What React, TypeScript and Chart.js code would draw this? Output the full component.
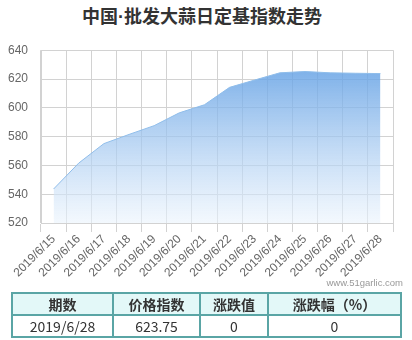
import React, { useEffect, useRef } from 'react';
import { Chart, registerables } from 'chart.js';

Chart.register(...registerables);

const titleBefore = '中国';
const titleDot = '·';
const titleAfter = '批发大蒜日定基指数走势';
const categories = [
  '2019/6/15', '2019/6/16', '2019/6/17', '2019/6/18', '2019/6/19', '2019/6/20', '2019/6/21',
  '2019/6/22', '2019/6/23', '2019/6/24', '2019/6/25', '2019/6/26', '2019/6/27', '2019/6/28',
];
const indexValues = [543.6, 561.6, 575.1, 581.5, 587.6, 596.5, 602.1, 614.2, 619.3, 624.3, 625.2, 624.3, 624.0, 623.75];
const yMin = 520;
const yMax = 640;
const yStep = 20;
const watermark = 'www.51garlic.com';
const tableHeaders = ['期数', '价格指数', '涨跌值', '涨跌幅（%）'];
const tableRow = ['2019/6/28', '623.75', '0', '0'];
const columnWidths = [101, 87, 68, 133];

const CJK = '"Noto Sans CJK SC", "Noto Sans", sans-serif';
const LATIN = '"Liberation Sans", Arial, sans-serif';

export default function App() {
  const canvasRef = useRef<HTMLCanvasElement | null>(null);

  useEffect(() => {
    if (!canvasRef.current) return;
    const chart = new Chart(canvasRef.current, {
      type: 'line',
      data: {
        labels: categories,
        datasets: [
          {
            data: indexValues,
            borderColor: '#8fbdea',
            borderWidth: 1,
            pointRadius: 0,
            tension: 0,
            fill: 'start',
            backgroundColor: (ctx: any) => {
              const c = ctx.chart;
              const area = c.chartArea;
              if (!area) return 'rgba(120,170,230,0.6)';
              const g = c.ctx.createLinearGradient(0, area.top, 0, area.bottom);
              g.addColorStop(0, 'rgba(82,150,225,0.86)');
              g.addColorStop(1, 'rgba(235,244,253,0.6)');
              return g;
            },
          },
        ],
      },
      options: {
        animation: false,
        responsive: false,
        maintainAspectRatio: false,
        layout: { padding: { left: 0, right: 19, top: 12, bottom: 0 } },
        plugins: {
          legend: { display: false },
          tooltip: { enabled: false },
          title: { display: false },
        },
        scales: {
          x: {
            type: 'category',
            offset: true,
            grid: { offset: true, color: '#d2d2d2', tickLength: 9, drawTicks: true },
            border: { color: '#d2d2d2' },
            ticks: {
              autoSkip: false,
              minRotation: 45,
              maxRotation: 45,
              padding: 0,
              color: '#666',
              font: { size: 12, family: LATIN },
            },
            afterFit: (scale: any) => {
              scale.height = 69;
            },
          },
          y: {
            min: yMin,
            max: yMax,
            grid: { color: '#d2d2d2', drawTicks: false },
            border: { color: '#d2d2d2' },
            ticks: {
              stepSize: yStep,
              padding: 13,
              color: '#666',
              font: { size: 12, family: LATIN },
            },
            afterFit: (scale: any) => {
              scale.width = 41;
            },
          },
        },
      },
    });
    return () => chart.destroy();
  }, []);

  return (
    <div style={{ position: 'absolute', left: 0, top: 0, width: 412, height: 340, background: '#fff', overflow: 'hidden' }}>
      <div
        style={{
          position: 'absolute', left: 0, top: 3, width: 404, textAlign: 'center',
          font: `bold 18px ${CJK}`, lineHeight: '24px', color: '#333',
        }}
      >
        {titleBefore}
        <span style={{ fontFamily: LATIN }}>{titleDot}</span>
        {titleAfter}
      </div>
      <canvas ref={canvasRef} width={412} height={262} style={{ position: 'absolute', left: 0, top: 30, width: 412, height: 262 }} />
      <div
        style={{
          position: 'absolute', right: 9, top: 277, fontFamily: LATIN,
          fontSize: 9.5, color: '#999', lineHeight: '12px',
        }}
      >
        {watermark}
      </div>
      <table
        style={{
          position: 'absolute', left: 11, top: 292, borderCollapse: 'collapse', tableLayout: 'fixed',
          width: 389, fontFamily: CJK, fontSize: 14, color: '#333',
        }}
      >
        <colgroup>
          {columnWidths.map((w, i) => (
            <col key={i} style={{ width: w }} />
          ))}
        </colgroup>
        <tbody>
          <tr style={{ height: 22, background: '#e3f8f8' }}>
            {tableHeaders.map((h, i) => (
              <td key={i} style={{ border: '2px solid #5aa5a5', textAlign: 'center', fontWeight: 'bold', padding: 0, lineHeight: '18px' }}>
                {h}
              </td>
            ))}
          </tr>
          <tr style={{ height: 22 }}>
            {tableRow.map((v, i) => (
              <td key={i} style={{ border: '2px solid #5aa5a5', textAlign: 'center', padding: 0, lineHeight: '18px' }}>
                {v}
              </td>
            ))}
          </tr>
        </tbody>
      </table>
    </div>
  );
}
